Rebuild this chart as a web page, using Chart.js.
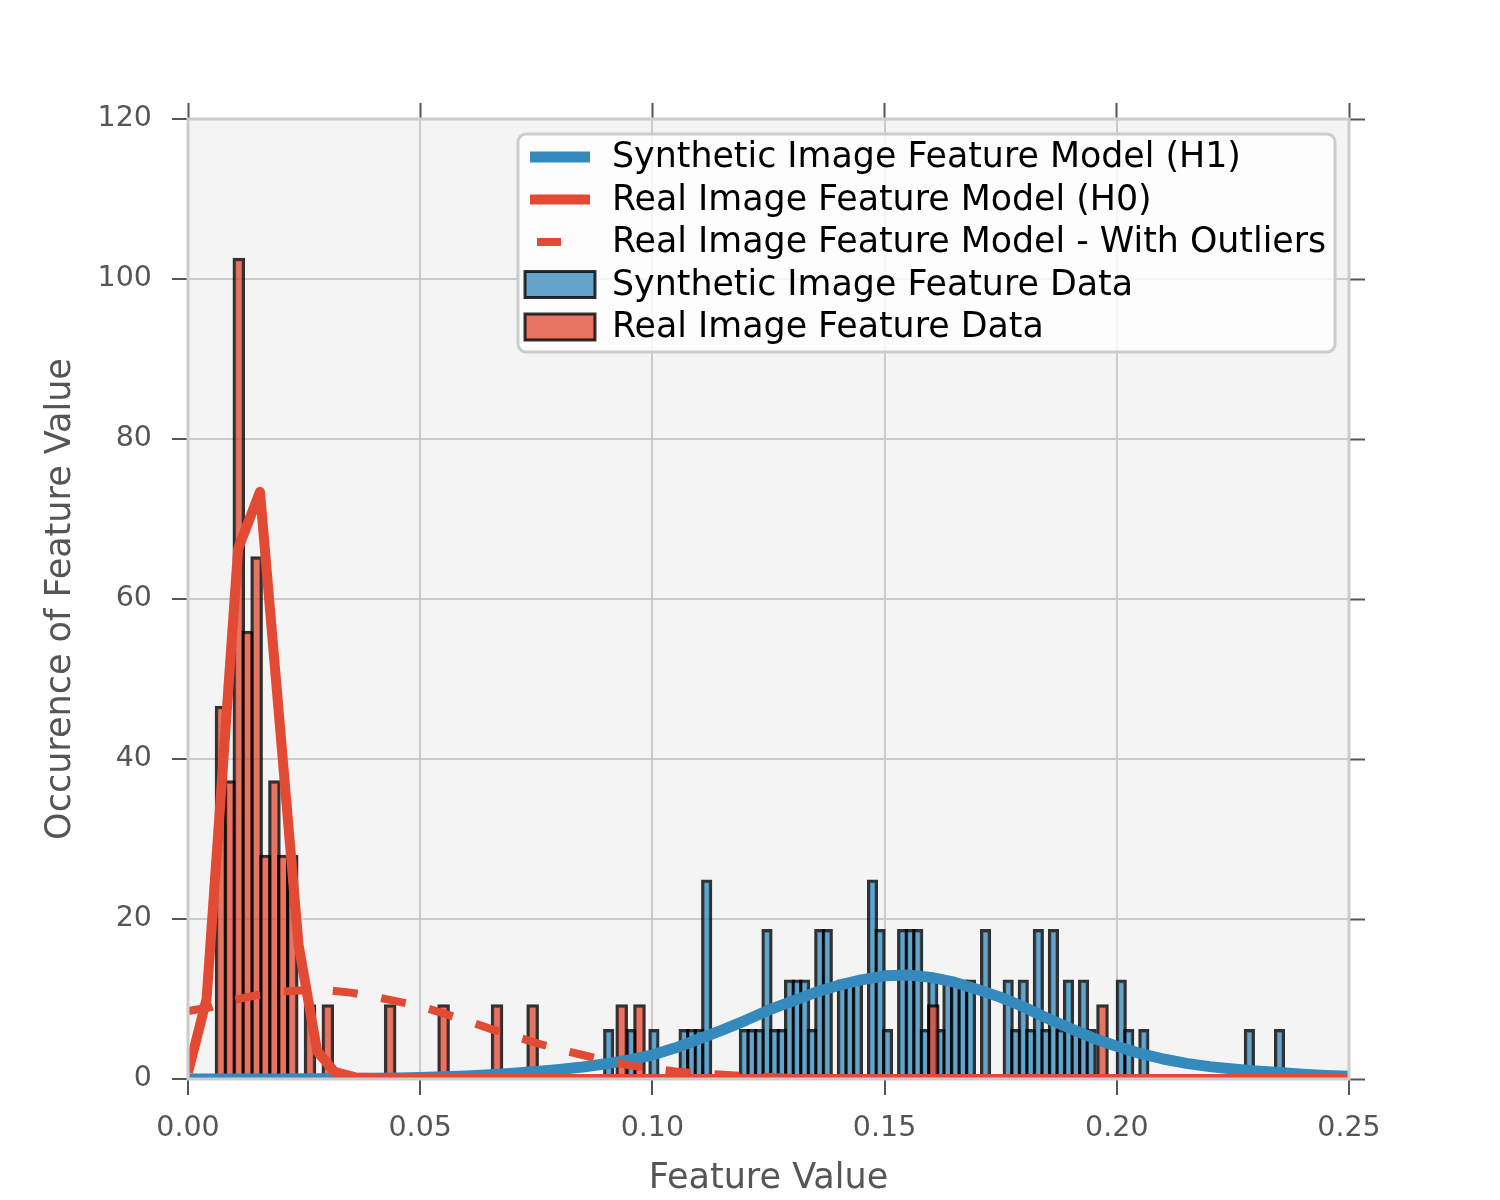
<!DOCTYPE html>
<html lang="en">
<head>
<meta charset="UTF-8">
<title>Feature Value Distributions</title>
<script src="https://cdn.jsdelivr.net/npm/chart.js"></script>
<style>
  body { margin: 0; background: #ffffff; }
  #chart { display: block; }
</style>
</head>
<body>
<canvas id="chart" width="1500" height="1200"></canvas>
<script>
// histogram bins: even bins, heights are normalised densities
const blueBinStart = 0.08978;
const blueBinWidth = 0.001623;
const blueHeights = [
  6.2, 0, 0, 6.2, 0, 0, 6.2, 0, 0, 0,
  6.2, 6.2, 6.2, 24.9, 0, 0, 0, 0, 6.2, 6.2,
  6.2, 18.7, 6.2, 6.2, 12.4, 12.4, 12.4, 6.2, 18.7, 18.7,
  0, 12.4, 12.4, 12.4, 0, 24.9, 18.7, 6.2, 0, 18.7,
  18.7, 18.7, 6.2, 12.4, 6.2, 12.4, 12.4, 12.4, 12.4, 0,
  18.7, 0, 0, 12.4, 6.2, 12.4, 6.2, 18.7, 6.2, 18.7,
  6.2, 12.4, 6.2, 12.4, 6.2, 0, 0, 0, 12.4, 6.2,
  0, 6.2, 0, 0, 0, 0, 0, 0, 0, 0,
  0, 0, 0, 0, 0, 6.2, 0, 0, 0, 6.2
];

const redBinStart = 0.006147;
const redBinWidth = 0.0019173;
const redHeights = [
  46.6, 37.3, 102.6, 56.0, 65.3, 28.0, 37.3, 28.0, 28.0, 0,
  9.3, 0, 9.3, 0, 0, 0, 0, 0, 0, 9.3,
  0, 0, 0, 0, 0, 9.3, 0, 0, 0, 0,
  0, 9.3, 0, 0, 0, 9.3, 0, 0, 0, 0,
  0, 0, 0, 0, 0, 9.3, 0, 9.3, 0, 0,
  0, 0, 0, 0, 0, 0, 0, 0, 0, 0,
  0, 0, 0, 0, 0, 0, 0, 0, 0, 0,
  0, 0, 0, 0, 0, 0, 0, 0, 0, 0,
  9.3, 0, 0, 0, 0, 0, 0, 0, 0, 0,
  0, 0, 0, 0, 0, 0, 0, 0, 0, 9.3
];

// model curves
const h1X = [0, 0.005, 0.01, 0.015, 0.02, 0.025, 0.03, 0.035, 0.04, 0.045,
             0.05, 0.055, 0.06, 0.065, 0.07, 0.075, 0.08, 0.085, 0.09, 0.095,
             0.1, 0.105, 0.11, 0.115, 0.12, 0.125, 0.13, 0.135, 0.14, 0.145,
             0.15, 0.155, 0.16, 0.165, 0.17, 0.175, 0.18, 0.185, 0.19, 0.195,
             0.2, 0.205, 0.21, 0.215, 0.22, 0.225, 0.23, 0.235, 0.24, 0.245, 0.25];
const h1Y = [0, 0, 0, 0, 0.01, 0.02, 0.04, 0.06, 0.09, 0.13,
             0.19, 0.27, 0.38, 0.52, 0.72, 0.95, 1.2, 1.5, 1.9, 2.4,
             3.0, 3.9, 5.0, 6.1, 7.3, 8.6, 9.7, 10.8, 11.7, 12.4,
             12.9, 13.0, 12.7, 12.1, 11.2, 10.2, 9.0, 7.6, 6.3, 5.1,
             4.1, 3.2, 2.5, 1.95, 1.55, 1.25, 1.0, 0.8, 0.6, 0.45, 0.35];

const h0X = [0, 0.004, 0.0108, 0.0155, 0.0238, 0.0278, 0.0315, 0.036, 0.045, 0.06, 0.1, 0.15, 0.2, 0.25];
const h0Y = [0.8, 10.0, 66.3, 73.4, 16.8, 3.5, 0.9, 0.2, 0.02, 0, 0, 0, 0, 0];

const outlierX = [0, 0.005, 0.01, 0.015, 0.02, 0.025, 0.03, 0.035, 0.04, 0.045,
                  0.05, 0.055, 0.06, 0.065, 0.07, 0.075, 0.08, 0.085, 0.09, 0.095,
                  0.1, 0.105, 0.11, 0.12, 0.13, 0.14, 0.15, 0.2, 0.25];
const outlierY = [8.5, 9.0, 9.9, 10.5, 10.9, 11.1, 11.1, 10.8, 10.3, 9.7,
                  9.1, 8.2, 7.3, 6.3, 5.4, 4.5, 3.7, 3.0, 2.3, 1.7,
                  1.3, 0.95, 0.7, 0.35, 0.15, 0.05, 0, 0, 0];

const BLUE = '#348ABD';
const RED = '#E24A33';
const GREY = '#555555';

function binData(start, width, heights) {
  const out = [];
  heights.forEach((h, i) => {
    if (h > 0) out.push({ x: start + (i + 0.5) * width, y: h });
  });
  return out;
}

function curve(xs, ys) {
  return xs.map((x, i) => ({ x: x, y: ys[i] }));
}

// bar width follows the bin width on the x scale (plus the edge line)
function binThickness(width) {
  return function (ctx) {
    const s = ctx.chart.scales.x;
    if (!s) return 8;
    return s.getPixelForValue(width) - s.getPixelForValue(0) + 3;
  };
}

const plotBackground = {
  id: 'plotBackground',
  beforeDraw(chart) {
    const { ctx, chartArea: a } = chart;
    ctx.save();
    ctx.fillStyle = '#ffffff';
    ctx.fillRect(0, 0, chart.width, chart.height);
    ctx.fillStyle = '#f4f4f4';
    ctx.fillRect(a.left, a.top, a.right - a.left, a.bottom - a.top);
    ctx.restore();
  }
};

const plotFrame = {
  id: 'plotFrame',
  afterDatasetsDraw(chart) {
    const { ctx, chartArea: a } = chart;
    ctx.save();
    ctx.strokeStyle = '#cccccc';
    ctx.lineWidth = 3;
    ctx.strokeRect(a.left, a.top, a.right - a.left, a.bottom - a.top);
    ctx.restore();
  }
};

function roundedBox(ctx, x, y, w, h, r) {
  ctx.beginPath();
  ctx.moveTo(x + r, y);
  ctx.arcTo(x + w, y, x + w, y + h, r);
  ctx.arcTo(x + w, y + h, x, y + h, r);
  ctx.arcTo(x, y + h, x, y, r);
  ctx.arcTo(x, y, x + w, y, r);
  ctx.closePath();
}

const boxLegend = {
  id: 'boxLegend',
  afterDraw(chart) {
    const ctx = chart.ctx;
    const bx = 518, by = 134, bw = 817, bh = 218;
    ctx.save();
    roundedBox(ctx, bx, by, bw, bh, 8);
    ctx.fillStyle = 'rgba(255,255,255,0.8)';
    ctx.fill();
    ctx.lineWidth = 3;
    ctx.strokeStyle = '#cccccc';
    ctx.stroke();

    ctx.font = '34.8px "DejaVu Sans"';
    ctx.textBaseline = 'middle';
    chart.data.datasets.forEach((ds, i) => {
      const cy = by + 23 + i * 42.5;
      if (ds.type === 'line') {
        ctx.beginPath();
        ctx.strokeStyle = ds.borderColor;
        ctx.lineWidth = ds.borderWidth;
        ctx.lineCap = 'butt';
        if (ds.borderDash) {
          ctx.moveTo(537, cy);
          ctx.lineTo(561, cy);
        } else {
          ctx.moveTo(530, cy);
          ctx.lineTo(590, cy);
        }
        ctx.stroke();
      } else {
        ctx.fillStyle = '#f4f4f4';
        ctx.fillRect(525, cy - 13, 70, 26);
        ctx.fillStyle = ds.backgroundColor;
        ctx.fillRect(525, cy - 13, 70, 26);
        ctx.strokeStyle = ds.borderColor;
        ctx.lineWidth = ds.borderWidth;
        ctx.strokeRect(525, cy - 13, 70, 26);
      }
      ctx.fillStyle = '#000000';
      ctx.fillText(ds.label, 612, cy + 1);
    });
    ctx.restore();
  }
};

Chart.defaults.font.family = '"DejaVu Sans"';

const gridStyle = { color: '#cbcbcb', lineWidth: 2, tickLength: 16, tickColor: GREY, tickWidth: 2, offset: false };
const tickOnly = { drawOnChartArea: false, tickLength: 16, tickColor: GREY, tickWidth: 2, offset: false };

new Chart(document.getElementById('chart'), {
  type: 'bar',
  data: {
    datasets: [
      {
        type: 'line', label: 'Synthetic Image Feature Model (H1)',
        data: curve(h1X, h1Y), borderColor: BLUE, borderWidth: 11,
        pointRadius: 0, tension: 0, clip: 0, borderJoinStyle: 'round', order: 2
      },
      {
        type: 'line', label: 'Real Image Feature Model (H0)',
        data: curve(h0X, h0Y), borderColor: RED, borderWidth: 10,
        pointRadius: 0, tension: 0, clip: 0, borderJoinStyle: 'round', order: 1
      },
      {
        type: 'line', label: 'Real Image Feature Model - With Outliers',
        data: curve(outlierX, outlierY), borderColor: RED, borderWidth: 8,
        borderDash: [25, 24], borderCapStyle: 'butt',
        pointRadius: 0, tension: 0, clip: 0, order: 0
      },
      {
        type: 'bar', label: 'Synthetic Image Feature Data',
        data: binData(blueBinStart, blueBinWidth, blueHeights),
        backgroundColor: 'rgba(52,138,189,0.75)', borderColor: 'rgba(0,0,0,0.8)',
        borderWidth: 3, borderSkipped: false, grouped: false,
        barThickness: binThickness(blueBinWidth), clip: 0, order: 4
      },
      {
        type: 'bar', label: 'Real Image Feature Data',
        data: binData(redBinStart, redBinWidth, redHeights),
        backgroundColor: 'rgba(226,74,51,0.75)', borderColor: 'rgba(0,0,0,0.8)',
        borderWidth: 3, borderSkipped: false, grouped: false,
        barThickness: binThickness(redBinWidth), clip: 0, order: 3
      }
    ]
  },
  options: {
    responsive: false,
    devicePixelRatio: 1,
    animation: false,
    layout: { padding: 0, autoPadding: false },
    plugins: { legend: { display: false }, tooltip: { enabled: false } },
    scales: {
      x: {
        type: 'linear', position: 'bottom', min: 0, max: 0.25, offset: false,
        ticks: { stepSize: 0.05, color: GREY, font: { size: 28.5 }, padding: 16, maxRotation: 0, autoSkip: false,
                 callback: v => v.toFixed(2) },
        grid: gridStyle,
        border: { display: false },
        title: { display: true, text: 'Feature Value', color: GREY, font: { size: 35, lineHeight: 1 }, padding: { top: 0, bottom: 4 } },
        afterFit: s => { s.height = 121; }
      },
      x2: {
        type: 'linear', position: 'top', min: 0, max: 0.25, offset: false,
        ticks: { stepSize: 0.05, display: false },
        grid: tickOnly,
        border: { display: false },
        afterFit: s => { s.height = 119; }
      },
      y: {
        type: 'linear', position: 'left', min: 0, max: 120,
        ticks: { stepSize: 20, color: GREY, font: { size: 28.5 }, padding: 20 },
        grid: gridStyle,
        border: { display: false },
        title: { display: true, text: 'Occurence of Feature Value', color: GREY, font: { size: 35 }, padding: { top: 40, bottom: 0 } },
        afterFit: s => { s.width = 188; }
      },
      y2: {
        type: 'linear', position: 'right', min: 0, max: 120,
        ticks: { stepSize: 20, display: false },
        grid: tickOnly,
        border: { display: false },
        afterFit: s => { s.width = 151; }
      }
    }
  },
  plugins: [plotBackground, plotFrame, boxLegend]
});
</script>
</body>
</html>
